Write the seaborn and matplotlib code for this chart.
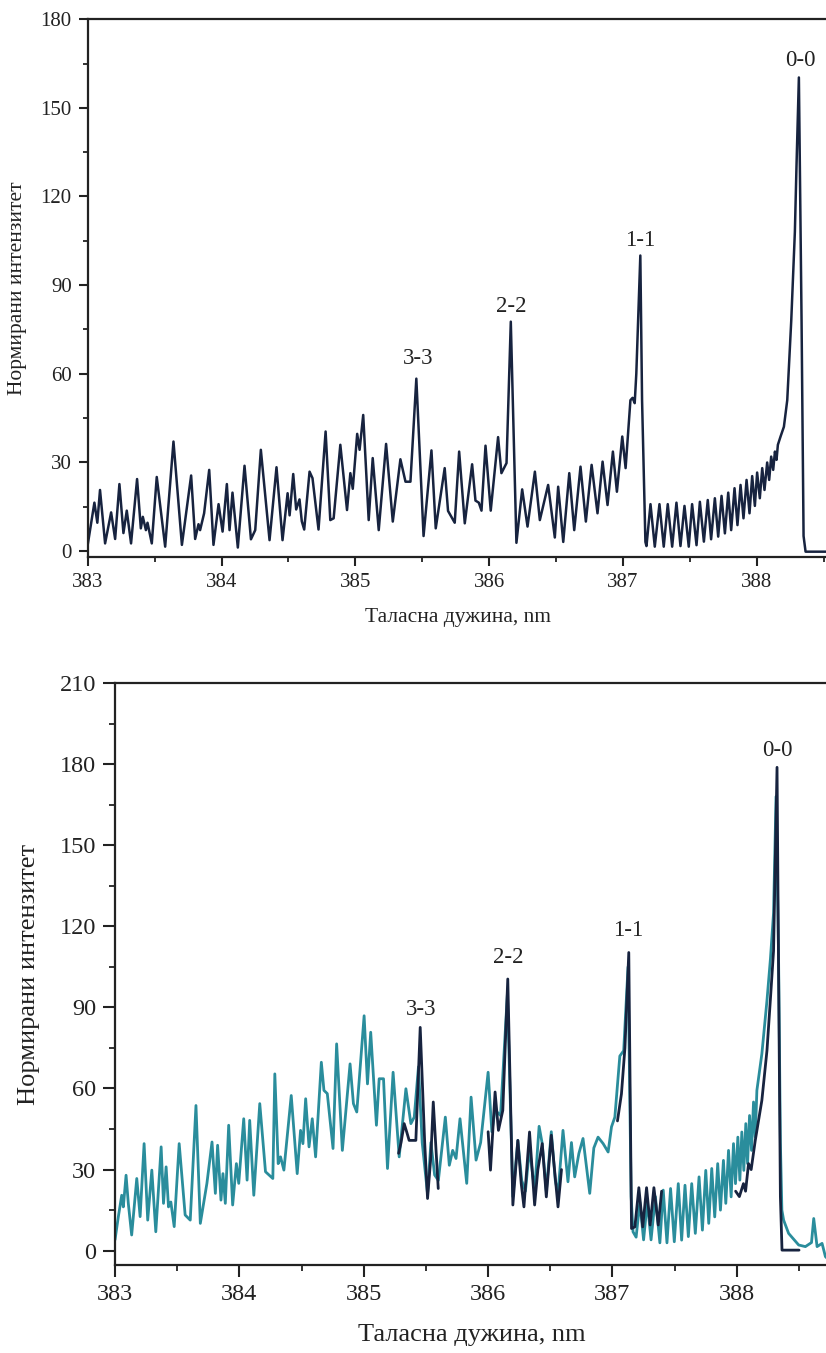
import numpy as np
import pandas as pd
import matplotlib
matplotlib.use("Agg")
import matplotlib.pyplot as plt
from matplotlib.ticker import MultipleLocator
import seaborn as sns

# ---------------- data ----------------
# Top panel: single spectrum
top_wl = [383.000, 383.050, 383.072, 383.092, 383.130, 383.175, 383.205, 383.237, 383.267, 383.292,
          383.324, 383.369, 383.397, 383.412, 383.435, 383.447, 383.479, 383.516, 383.579, 383.641,
          383.704, 383.773, 383.803, 383.828, 383.840, 383.870, 383.908, 383.940, 383.978, 384.008,
          384.040, 384.060, 384.082, 384.122, 384.172, 384.220, 384.252, 384.294, 384.359, 384.411,
          384.456, 384.494, 384.509, 384.536, 384.558, 384.583, 384.600, 384.618, 384.658, 384.680,
          384.725, 384.778, 384.813, 384.838, 384.888, 384.938, 384.963, 384.981, 385.014, 385.032,
          385.059, 385.100, 385.130, 385.175, 385.230, 385.280, 385.337, 385.375, 385.412, 385.456,
          385.510, 385.569, 385.601, 385.668, 385.693, 385.743, 385.776, 385.818, 385.873, 385.898,
          385.923, 385.943, 385.973, 386.012, 386.067, 386.092, 386.130, 386.162, 386.204, 386.247,
          386.287, 386.342, 386.379, 386.441, 386.491, 386.516, 386.554, 386.599, 386.636, 386.683,
          386.723, 386.766, 386.810, 386.848, 386.885, 386.925, 386.955, 386.995, 387.020, 387.056,
          387.072, 387.088, 387.100, 387.130, 387.143, 387.168, 387.176,
          387.206, 387.238, 387.273, 387.305, 387.335, 387.368, 387.400, 387.430, 387.460, 387.492,
          387.517, 387.550, 387.575, 387.605, 387.634, 387.659, 387.687, 387.712, 387.737, 387.762,
          387.787, 387.809, 387.834, 387.856, 387.879, 387.901, 387.924, 387.946, 387.966, 387.986,
          388.003, 388.023, 388.041, 388.058, 388.078, 388.093, 388.108, 388.123, 388.136, 388.148,
          388.158, 388.178, 388.203, 388.228, 388.258, 388.285, 388.297, 388.315, 388.325, 388.335,
          388.350, 388.365, 388.530]
top_int = [2.0, 16.3, 9.5, 20.6, 2.5, 13.0, 4.0, 22.6, 6.0, 13.6,
           2.5, 24.3, 7.6, 11.5, 7.0, 9.5, 2.5, 25.0, 1.4, 37.0,
           2.0, 25.5, 4.0, 9.0, 7.0, 12.7, 27.4, 2.0, 15.8, 6.5,
           22.6, 7.0, 19.7, 1.1, 28.8, 3.9, 7.0, 34.2, 3.6, 28.3,
           3.6, 19.5, 12.0, 26.0, 14.0, 17.4, 10.0, 7.2, 26.8, 24.6,
           7.2, 40.4, 10.4, 11.0, 35.9, 13.8, 26.3, 21.0, 39.6, 34.2,
           46.0, 10.4, 31.4, 7.0, 36.2, 9.9, 31.0, 23.4, 23.4, 58.3,
           5.0, 34.0, 7.6, 28.0, 13.5, 9.5, 33.6, 9.3, 29.3, 17.0,
           16.3, 13.6, 35.6, 13.6, 38.5, 26.3, 29.7, 77.6, 2.7, 20.8,
           8.2, 26.8, 10.4, 22.3, 4.5, 21.7, 3.0, 26.3, 7.0, 28.5,
           9.9, 29.1, 12.7, 30.2, 15.5, 33.6, 20.0, 38.7, 28.0, 51.0,
           51.8, 50.0, 60.0, 100.0, 51.0, 3.0, 1.6,
           15.8, 1.4, 15.8, 1.4, 15.8, 1.4, 16.3, 1.6, 15.2, 1.4,
           15.8, 1.9, 16.6, 3.1, 17.2, 3.9, 17.8, 4.8, 18.6, 5.9,
           19.7, 7.0, 21.2, 8.7, 22.3, 11.0, 24.0, 12.7, 25.3, 15.2,
           26.5, 17.8, 28.0, 20.6, 29.9, 24.0, 31.9, 27.4, 33.6, 30.8,
           35.9, 38.7, 42.0, 51.0, 78.0, 108.0, 130.0, 160.3, 120.0, 78.0,
           5.0, -0.3, -0.3]

# Bottom panel: teal spectrum (full range)
teal_wl = [383.000, 383.027, 383.054, 383.067, 383.089, 383.107, 383.134, 383.175, 383.202, 383.234,
           383.263, 383.296, 383.328, 383.371, 383.390, 383.411, 383.430, 383.449, 383.476, 383.516,
           383.564, 383.605, 383.651, 383.686, 383.739, 383.780, 383.807, 383.825, 383.852, 383.868,
           383.887, 383.914, 383.946, 383.976, 383.995, 384.035, 384.062, 384.083, 384.116, 384.164,
           384.210, 384.269, 384.285, 384.312, 384.331, 384.358, 384.417, 384.465, 384.492, 384.511,
           384.533, 384.560, 384.586, 384.613, 384.659, 384.680, 384.707, 384.753, 384.782, 384.828,
           384.890, 384.917, 384.944, 385.003, 385.030, 385.056, 385.102, 385.124, 385.159, 385.191,
           385.236, 385.285, 385.339, 385.379, 385.406, 385.440, 385.470, 385.513, 385.540, 385.570,
           385.600, 385.656, 385.688, 385.715, 385.742, 385.774, 385.828, 385.863, 385.903, 385.940,
           386.000, 386.030, 386.056, 386.100, 386.155, 386.199, 386.239, 386.270, 386.300, 386.333,
           386.374, 386.410, 386.435, 386.468, 386.508, 386.540, 386.562, 386.602, 386.642, 386.670,
           386.696, 386.730, 386.763, 386.817, 386.850, 386.884, 386.925, 386.965, 386.992, 387.019,
           387.059, 387.090, 387.125, 387.150, 387.165, 387.190, 387.220, 387.250, 387.280, 387.310,
           387.345, 387.381, 387.408, 387.438, 387.467, 387.497, 387.529, 387.556, 387.583, 387.610,
           387.637, 387.666, 387.696, 387.723, 387.750, 387.774, 387.798, 387.822, 387.846, 387.868,
           387.892, 387.911, 387.933, 387.954, 387.973, 387.989, 388.008, 388.024, 388.040, 388.056,
           388.072, 388.086, 388.102, 388.118, 388.134, 388.148, 388.161, 388.201, 388.242, 388.270,
           388.295, 388.315, 388.335, 388.350, 388.362, 388.376, 388.416, 388.497, 388.551, 388.600,
           388.618, 388.645, 388.685, 388.712, 388.730]
teal_int = [4.0, 12.6, 20.5, 16.2, 27.9, 17.5, 5.8, 26.7, 12.6, 39.6,
            11.3, 29.8, 7.0, 38.4, 17.5, 31.0, 16.2, 18.0, 8.9, 39.6,
            13.2, 11.3, 53.7, 10.1, 24.9, 40.2, 21.2, 39.0, 18.7, 28.5,
            17.5, 46.4, 16.9, 32.2, 24.9, 48.8, 26.1, 48.2, 20.5, 54.4,
            29.2, 26.7, 65.4, 32.2, 34.7, 29.8, 57.4, 28.5, 44.5, 39.6,
            56.2, 38.4, 48.8, 34.7, 69.7, 59.3, 58.1, 37.8, 76.5, 37.1,
            69.1, 54.4, 51.3, 86.9, 61.7, 80.8, 46.4, 63.6, 63.6, 30.4,
            66.0, 34.7, 59.9, 47.0, 49.4, 68.0, 40.0, 21.0, 40.0, 28.0,
            26.0, 49.4, 31.6, 37.1, 34.1, 48.8, 24.9, 56.8, 33.5, 40.0,
            66.0, 44.0, 52.0, 50.0, 95.0, 20.0, 40.8, 26.0, 22.0, 38.0,
            22.0, 46.0, 39.6, 22.0, 44.0, 26.0, 21.0, 44.5, 25.5, 40.0,
            27.3, 36.0, 41.5, 21.2, 38.0, 42.0, 39.6, 36.5, 45.8, 49.4,
            72.0, 74.0, 105.0, 20.0, 7.0, 5.0, 18.0, 4.0, 18.0, 4.0,
            20.0, 2.9, 22.4, 2.9, 23.0, 3.3, 24.8, 3.9, 24.2, 5.2,
            24.8, 6.4, 27.3, 7.6, 29.7, 10.1, 30.4, 12.5, 32.2, 15.0,
            33.4, 17.5, 37.1, 19.9, 39.6, 24.8, 42.0, 26.1, 43.9, 29.7,
            47.0, 32.2, 50.0, 37.1, 55.0, 42.0, 59.3, 72.8, 92.5, 108.0,
            125.0, 168.0, 110.0, 40.0, 15.0, 11.3, 6.4, 2.1, 1.5, 3.0,
            11.9, 1.5, 2.7, -2.2, -3.0]

# Bottom panel: dark spectrum (visible segments)
navy_seg = ["a"] * 12 + ["b"] * 18 + ["c"] * 13 + ["d"] * 16
navy_wl = [385.280, 385.300, 385.325, 385.345, 385.365, 385.419, 385.454, 385.490, 385.513, 385.540,
           385.559, 385.599,
           386.000, 386.019, 386.056, 386.083, 386.118, 386.158, 386.199, 386.239, 386.266, 386.288,
           386.333, 386.374, 386.400, 386.435, 386.468, 386.508, 386.562, 386.590,
           387.040, 387.072, 387.100, 387.131, 387.153, 387.180, 387.212, 387.243, 387.274, 387.303,
           387.333, 387.368, 387.395,
           387.990, 388.020, 388.053, 388.070, 388.094, 388.115, 388.148, 388.201, 388.242, 388.269,
           388.295, 388.323, 388.336, 388.350, 388.363, 388.500]
navy_int = [36.0, 40.0, 47.0, 44.0, 40.8, 40.8, 82.6, 40.0, 19.3, 35.0,
            55.0, 23.0,
            44.0, 29.8, 58.7, 44.5, 51.9, 100.5, 16.9, 40.8, 24.9, 16.2,
            43.9, 16.9, 30.0, 39.6, 19.9, 42.7, 16.2, 30.0,
            48.0, 58.0, 75.0, 110.3, 8.2, 8.8, 23.3, 8.8, 23.3, 9.5,
            23.3, 9.5, 22.0,
            22.0, 20.0, 24.8, 22.0, 32.2, 30.0, 40.8, 55.6, 74.0, 92.5,
            110.9, 178.8, 100.0, 20.0, 0.2, 0.2]

band_labels = ["3-3", "2-2", "1-1", "0-0"]
top_label_x = [385.467, 386.166, 387.131, 388.328]
top_label_y = [65.0, 82.9, 105.0, 166.0]
bot_label_x = [385.465, 386.164, 387.129, 388.328]
bot_label_y = [89.2, 108.5, 118.3, 184.9]

xlabel = "Таласна дужина, nm"
ylabel = "Нормирани интензитет"

# ---------------- style ----------------
sns.set_theme(style="ticks")
plt.rcParams["font.family"] = ["Liberation Serif", "DejaVu Serif"]
plt.rcParams["axes.edgecolor"] = "#222222"
plt.rcParams["xtick.color"] = "#222222"
plt.rcParams["ytick.color"] = "#222222"
plt.rcParams["text.color"] = "#222222"
plt.rcParams["axes.labelcolor"] = "#222222"
plt.rcParams["lines.solid_joinstyle"] = "round"

NAVY = "#17233f"
TEAL = "#2a8d9c"

fig = plt.figure(figsize=(8.26, 13.53), dpi=100)
W, H = 826.0, 1353.0
ax1 = fig.add_axes([87.7 / W, 1 - 556.7 / H, 1 - 87.7 / W + 0.002, (556.7 - 19.3) / H])
ax2 = fig.add_axes([115.0 / W, 1 - 1265.0 / H, 1 - 115.0 / W + 0.002, (1265.0 - 683.0) / H])

df_top = pd.DataFrame({"wl": top_wl, "I": top_int})
sns.lineplot(data=df_top, x="wl", y="I", ax=ax1, color=NAVY, lw=1.8, sort=False, estimator=None)

df_teal = pd.DataFrame({"wl": teal_wl, "I": teal_int})
df_navy = pd.DataFrame({"wl": navy_wl, "I": navy_int, "seg": navy_seg})
sns.lineplot(data=df_teal, x="wl", y="I", ax=ax2, color=TEAL, lw=2.0, sort=False, estimator=None)
sns.lineplot(data=df_navy, x="wl", y="I", units="seg", ax=ax2, color=NAVY, lw=2.0,
             sort=False, estimator=None)

def style_axis(ax, ylim, ymax_tick, xmax, tick_fs, label_fs, major_len, minor_len):
    ax.set_xlim(383, xmax)
    ax.set_ylim(*ylim)
    ax.xaxis.set_major_locator(MultipleLocator(1))
    ax.xaxis.set_minor_locator(MultipleLocator(0.5))
    ax.yaxis.set_major_locator(MultipleLocator(30))
    ax.yaxis.set_minor_locator(MultipleLocator(15))
    ax.set_xticks(np.arange(383, 389, 1))
    ax.set_yticks(np.arange(0, ymax_tick + 1, 30))
    ax.tick_params(which="major", direction="out", length=major_len, width=1.5,
                   labelsize=tick_fs, pad=5)
    ax.tick_params(which="minor", direction="out", length=minor_len, width=1.3)
    ax.spines["right"].set_visible(False)
    for s in ["left", "bottom", "top"]:
        ax.spines[s].set_linewidth(1.6)
    ax.set_xlabel(xlabel, fontsize=label_fs)
    ax.set_ylabel(ylabel, fontsize=label_fs)
    ax.grid(False)

style_axis(ax1, (-2, 180), 180, 388.53, 15, 15.5, 6.5, 3.5)
style_axis(ax2, (-5.3, 210), 210, 388.73, 17.5, 19, 8.5, 4.5)
ax1.xaxis.labelpad = 12
ax1.yaxis.labelpad = 10
ax2.xaxis.labelpad = 14
ax2.yaxis.labelpad = 14

for t, x, y in zip(band_labels, top_label_x, top_label_y):
    ax1.text(x, y, t, ha="center", va="center", fontsize=16.5)
for t, x, y in zip(band_labels, bot_label_x, bot_label_y):
    ax2.text(x, y, t, ha="center", va="center", fontsize=16.5)

fig.savefig("out.png", dpi=100)
